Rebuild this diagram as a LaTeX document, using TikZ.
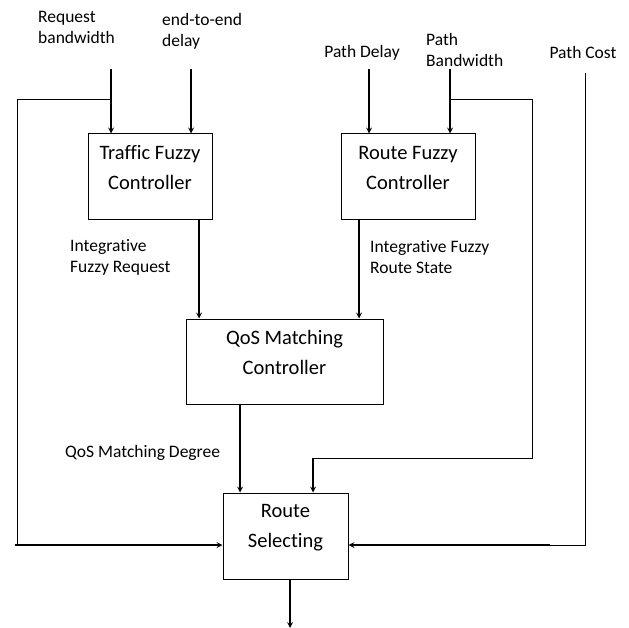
\documentclass[tikz,border=0pt]{standalone}
\usepackage{fontspec}
\setmainfont{Carlito}[Ligatures=NoCommon]
\usetikzlibrary{calc}
\begin{document}
\begin{tikzpicture}[>=stealth,x=1pt,y=-1pt,
                box/.style={draw,line width=1pt,minimum height=86pt,inner sep=0pt},
                boxtxt/.style={align=center,inner sep=0pt,font=\fontsize{20.5}{30}\selectfont},
                lbl/.style={align=left,inner sep=0pt,font=\fontsize{17.5}{21}\selectfont},
                feed/.style={->,line width=1.6pt},
                wire/.style={line width=0.8pt}]
                \useasboundingbox (0,0) rectangle (629,628);
                \node[box,minimum width=124pt] (traffic) at (150,177) {};
                \node[box,minimum width=134pt] (route) at (408,177) {};
                \node[box,minimum width=197pt,minimum height=85pt] (qos) at (284.5,361.5) {};
                \node[box,minimum width=125pt] (select) at (285.5,536) {};
                \node[boxtxt] (traffictxt) at ([yshift=9pt]traffic.center) {Traffic Fuzzy\\Controller};
                \node[boxtxt] (routetxt) at ([yshift=9pt]route.center) {Route Fuzzy\\Controller};
                \node[boxtxt] (qostxt) at ([yshift=9pt]qos.center) {QoS Matching\\Controller};
                \node[boxtxt] (selecttxt) at ([yshift=8pt]select.center) {Route\\Selecting};
                \node[lbl,anchor=west] (reqbw) at (38,27.5) {Request\\bandwidth};
                \node[lbl,anchor=west] (delay) at (162,31) {end-to-end\\delay};
                \node[lbl] (pdelay) at (362,53) {Path Delay};
                \node[lbl,anchor=west] (pbw) at (426,49.5) {Path\\Bandwidth};
                \node[lbl] (pcost) at (583,52) {Path Cost};
                \node[lbl,anchor=west] (fuzzreq) at (70,257.5) {Integrative\\Fuzzy Request};
                \node[lbl,anchor=west] (fuzzstate) at (370,257) {Integrative Fuzzy\\Route State};
                \node[lbl,anchor=west] (degree) at (65,453) {QoS Matching Degree};
                \coordinate (reqin) at (111,69);
                \coordinate (delayin) at (191,69);
                \coordinate (pdelayin) at (369,69);
                \coordinate (pbwin) at (450,69);
                \coordinate (costin) at (585,73);
                \coordinate (leftbus) at (17,99);
                \coordinate (rightbus) at (532,458);
                \coordinate (rightdrop) at (313,458);
                \coordinate (costbus) at (585,545);
                \coordinate (lefthit) at (17,545);
                \coordinate (righthit) at (550,545);
                \coordinate (out) at (290,628);
                \draw[feed] (reqin) -- (reqin |- traffic.north);
                \draw[feed] (delayin) -- (delayin |- traffic.north);
                \draw[feed] (pdelayin) -- (pdelayin |- route.north);
                \draw[feed] (pbwin) -- (pbwin |- route.north);
                \draw[wire] (reqin |- leftbus) -- (leftbus) -- (lefthit);
                \draw[feed] ([xshift=-2pt]lefthit) -- (lefthit -| select.west);
                \draw[wire] (pbwin |- leftbus) -| (rightbus) -- (rightdrop);
                \draw[feed] (rightdrop) -- (rightdrop |- select.north);
                \draw[wire] (costin) -- (costbus) -- (righthit);
                \draw[feed] (righthit) -- (righthit -| select.east);
                \draw[feed] ([xshift=49pt]traffic.south) -- ([xshift=49pt]traffic.south |- qos.north);
                \draw[feed] ([xshift=-49pt]route.south) -- ([xshift=-49pt]route.south |- qos.north);
                \draw[feed] ([xshift=-44.5pt]qos.south) -- ([xshift=-44.5pt]qos.south |- select.north);
                \draw[feed] ([xshift=4.5pt]select.south) -- ([xshift=4.5pt]select.south |- out);
            \end{tikzpicture}
\end{document}
